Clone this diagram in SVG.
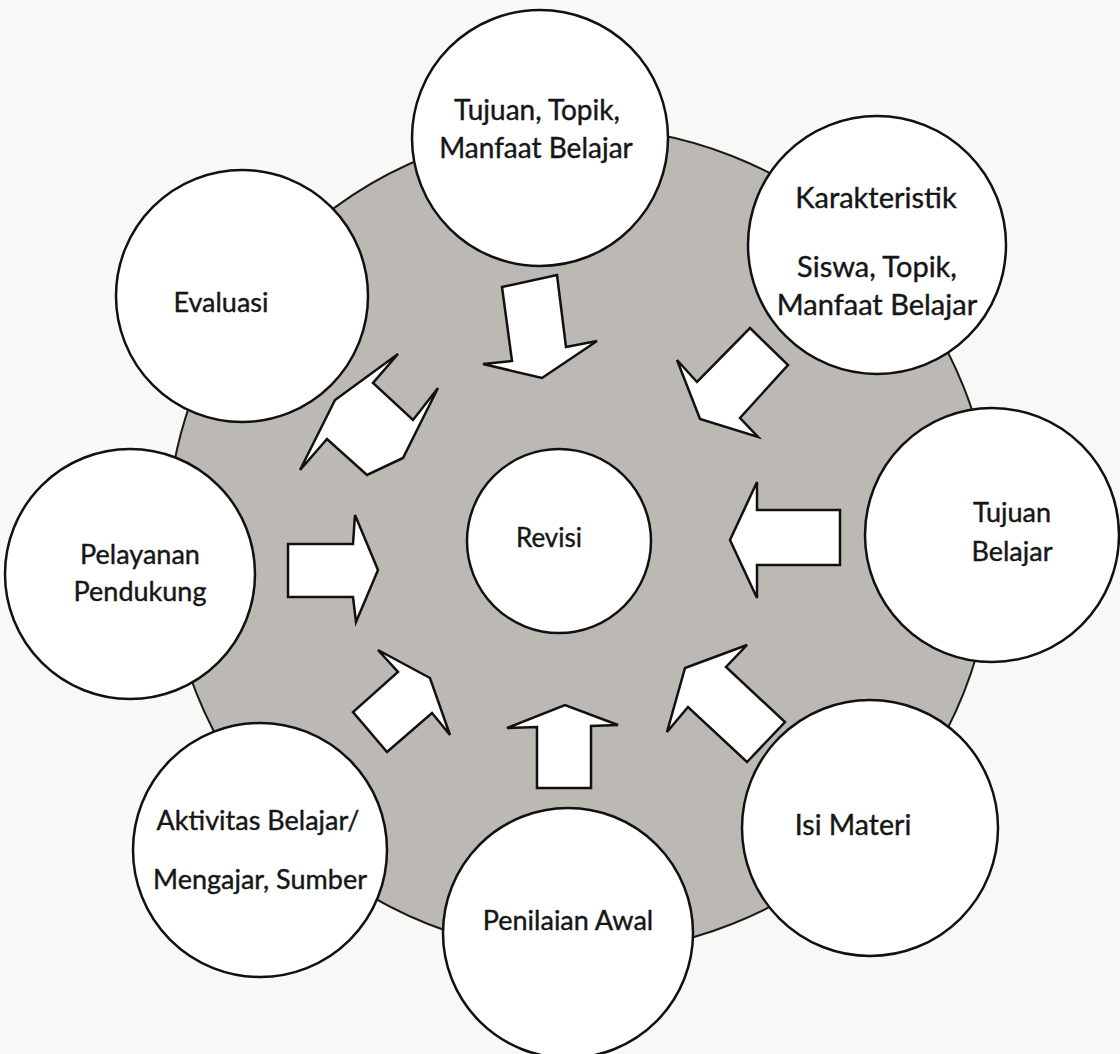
<svg xmlns="http://www.w3.org/2000/svg" width="1120" height="1054" viewBox="0 0 1120 1054">
<style>
.bg{fill:#f8f8f6}
.ring{fill:#bcb8b3;stroke:#1a1a1a;stroke-width:2}
.node{fill:#ffffff;stroke:#111;stroke-width:2.5}
.arr{fill:#ffffff;stroke:#111;stroke-width:2.5;stroke-linejoin:miter}
text{font-family:Lato,"Liberation Sans",Arial,sans-serif;font-size:27px;fill:#161616;stroke:#161616;stroke-width:0.4;text-anchor:middle}
</style>
<rect class="bg" x="0" y="0" width="1120" height="1054"/>
<circle class="ring" cx="580" cy="540" r="413"/>
<g id="connectors">
<polygon class="arr" points="502,287 557,275 566,347 597,341 542,378 483,364 512,361"/>
<polygon class="arr" points="750,328 788,365 740,418 758,437 700,419 677,360 697,382"/>
<polygon class="arr" points="840,510 757,510 757,482 730,540 757,598 757,565 840,565"/>
<polygon class="arr" points="747,645 726,667 785,722 747,762 688,707 667,732 685,668"/>
<polygon class="arr" points="537,788 537,727 507,728 565,705 618,725 591,726 591,788"/>
<polygon class="arr" points="378,650 398,672 353,712 387,752 432,713 450,735 430,678"/>
<polygon class="arr" points="288,544 353,544 355,515 378,570 356,622 353,597 288,597"/>
<polygon class="arr" points="398,354 373,383 413,420 438,388 403,458 367,475 327,439 300,470 335,400"/>
</g>
<g id="node-tujuan-topik">
<circle class="node" cx="540" cy="138" r="128"/>
<text x="537" y="120" style="font-size:28px">Tujuan, Topik,</text>
<text x="536" y="158" style="font-size:28px">Manfaat Belajar</text>
</g>
<g id="node-karakteristik">
<circle class="node" cx="877" cy="245" r="129"/>
<text x="876" y="208" style="font-size:29px">Karakteristik</text>
<text x="877" y="277" style="font-size:29px">Siswa, Topik,</text>
<text x="877" y="315" style="font-size:29px">Manfaat Belajar</text>
</g>
<g id="node-evaluasi">
<circle class="node" cx="242" cy="296" r="126"/>
<text x="221" y="312">Evaluasi</text>
</g>
<g id="node-tujuan-belajar">
<circle class="node" cx="992" cy="535" r="127"/>
<text x="1012" y="522">Tujuan</text>
<text x="1012" y="561">Belajar</text>
</g>
<g id="node-pelayanan">
<circle class="node" cx="130" cy="574" r="125"/>
<text x="140" y="564">Pelayanan</text>
<text x="140" y="601">Pendukung</text>
</g>
<g id="node-revisi">
<circle class="node" cx="559" cy="541" r="92"/>
<text x="549" y="547" style="font-size:26px">Revisi</text>
</g>
<g id="node-aktivitas">
<circle class="node" cx="260" cy="850" r="127"/>
<text x="258" y="830">Aktivitas Belajar/</text>
<text x="260" y="889">Mengajar, Sumber</text>
</g>
<g id="node-penilaian">
<circle class="node" cx="568" cy="933" r="125"/>
<text x="568" y="930">Penilaian Awal</text>
</g>
<g id="node-isi-materi">
<circle class="node" cx="870" cy="828" r="128"/>
<text x="853" y="835" style="font-size:28.5px">Isi Materi</text>
</g>
</svg>
